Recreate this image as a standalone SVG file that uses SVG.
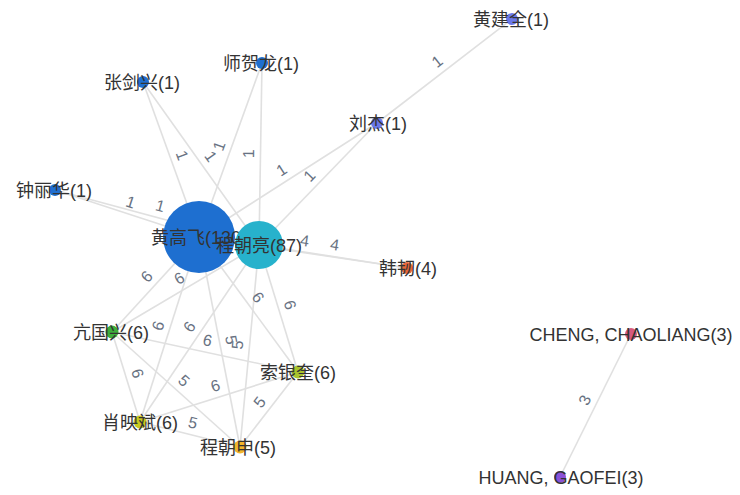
<svg xmlns="http://www.w3.org/2000/svg" width="740" height="495" viewBox="0 0 740 495">
<style>
.e{stroke:#e0e0e0;stroke-width:1.6;fill:none}
.el{font-family:"Liberation Sans","Noto Sans CJK SC",sans-serif;font-size:16px;fill:#687282;text-anchor:middle}
.nl{font-family:"Liberation Sans","Noto Sans CJK SC",sans-serif;font-size:18px;fill:#333;text-anchor:middle}
</style>
<rect width="740" height="495" fill="#fff"/>
<g id="connectors">
<line class="e" x1="199" y1="237" x2="55" y2="190"/>
<line class="e" x1="259" y1="245" x2="55" y2="190"/>
<line class="e" x1="199" y1="237" x2="143" y2="82"/>
<line class="e" x1="259" y1="245" x2="143" y2="82"/>
<line class="e" x1="199" y1="237" x2="262" y2="63"/>
<line class="e" x1="259" y1="245" x2="262" y2="63"/>
<line class="e" x1="199" y1="237" x2="377" y2="123"/>
<line class="e" x1="259" y1="245" x2="377" y2="123"/>
<line class="e" x1="377" y1="123" x2="512" y2="19"/>
<line class="e" x1="199" y1="237" x2="407" y2="268"/>
<line class="e" x1="259" y1="245" x2="407" y2="268"/>
<line class="e" x1="199" y1="237" x2="112" y2="332"/>
<line class="e" x1="259" y1="245" x2="112" y2="332"/>
<line class="e" x1="199" y1="237" x2="140" y2="422"/>
<line class="e" x1="259" y1="245" x2="140" y2="422"/>
<line class="e" x1="199" y1="237" x2="298" y2="372"/>
<line class="e" x1="259" y1="245" x2="298" y2="372"/>
<line class="e" x1="199" y1="237" x2="240" y2="447"/>
<line class="e" x1="259" y1="245" x2="240" y2="447"/>
<line class="e" x1="112" y1="332" x2="140" y2="422"/>
<line class="e" x1="112" y1="332" x2="298" y2="372"/>
<line class="e" x1="112" y1="332" x2="240" y2="447"/>
<line class="e" x1="140" y1="422" x2="298" y2="372"/>
<line class="e" x1="140" y1="422" x2="240" y2="447"/>
<line class="e" x1="298" y1="372" x2="240" y2="447"/>
<line class="e" x1="631" y1="334" x2="560" y2="477"/>
<g id="edge-labels">
<text class="el" transform="translate(127,213.5) rotate(18.1)" y="-6.5">1</text>
<text class="el" transform="translate(157,217.5) rotate(15.1)" y="-6.5">1</text>
<text class="el" transform="translate(171,159.5) rotate(70.1)" y="-6.5">1</text>
<text class="el" transform="translate(201,163.5) rotate(54.6)" y="-6.5">1</text>
<text class="el" transform="translate(230.5,150) rotate(-70.1)" y="-6.5">1</text>
<text class="el" transform="translate(260.5,154) rotate(-89.1)" y="-6.5">1</text>
<text class="el" transform="translate(288,180) rotate(-32.6)" y="-6.5">1</text>
<text class="el" transform="translate(318,184) rotate(-45.9)" y="-6.5">1</text>
<text class="el" transform="translate(444.5,71) rotate(-37.6)" y="-6.5">1</text>
<text class="el" transform="translate(303,252.5) rotate(8.5)" y="-6.5">4</text>
<text class="el" transform="translate(333,256.5) rotate(8.8)" y="-6.5">4</text>
<text class="el" transform="translate(155.5,284.5) rotate(-47.5)" y="-6.5">6</text>
<text class="el" transform="translate(185.5,288.5) rotate(-30.6)" y="-6.5">6</text>
<text class="el" transform="translate(169.5,329.5) rotate(-72.3)" y="-6.5">6</text>
<text class="el" transform="translate(199.5,333.5) rotate(-56.1)" y="-6.5">6</text>
<text class="el" transform="translate(248.5,304.5) rotate(53.7)" y="-6.5">6</text>
<text class="el" transform="translate(278.5,308.5) rotate(72.9)" y="-6.5">6</text>
<text class="el" transform="translate(219.5,342) rotate(79)" y="-6.5">5</text>
<text class="el" transform="translate(249.5,346) rotate(-84.6)" y="-6.5">5</text>
<text class="el" transform="translate(126,377) rotate(72.7)" y="-6.5">6</text>
<text class="el" transform="translate(205,352) rotate(12.1)" y="-6.5">6</text>
<text class="el" transform="translate(176,389.5) rotate(41.9)" y="-6.5">5</text>
<text class="el" transform="translate(219,397) rotate(-17.6)" y="-6.5">6</text>
<text class="el" transform="translate(190,434.5) rotate(14)" y="-6.5">5</text>
<text class="el" transform="translate(269,409.5) rotate(-52.3)" y="-6.5">5</text>
<text class="el" transform="translate(595.5,405.5) rotate(-63.6)" y="-6.5">3</text>
</g>
</g>
<g id="node-zhangjianxing"><circle cx="143" cy="82" r="6" fill="#1f6fd0"/><text class="nl" x="142" y="88.5">张剑兴(1)</text></g>
<g id="node-shihelong"><circle cx="262" cy="63" r="6" fill="#1f6fd0"/><text class="nl" x="261" y="69.5">师贺龙(1)</text></g>
<g id="node-zhonglihua"><circle cx="55" cy="190" r="6" fill="#1f6fd0"/><text class="nl" x="54" y="196.5">钟丽华(1)</text></g>
<g id="node-liujie"><circle cx="377" cy="123" r="6" fill="#6b78e8"/><text class="nl" x="378" y="129.5">刘杰(1)</text></g>
<g id="node-huangjianquan"><circle cx="512" cy="19" r="6" fill="#6b78e8"/><text class="nl" x="511" y="25.5">黄建全(1)</text></g>
<g id="node-hanren"><circle cx="407" cy="268" r="6" fill="#e8673a"/><text class="nl" x="408" y="274.5">韩韧(4)</text></g>
<g id="node-kangguoxing"><circle cx="112" cy="332" r="6.5" fill="#3cae3c"/><text class="nl" x="111" y="338.5">亢国兴(6)</text></g>
<g id="node-suoyinkui"><circle cx="298" cy="372" r="6.5" fill="#a9c42c"/><text class="nl" x="298" y="378.5">索银奎(6)</text></g>
<g id="node-xiaoyingbin"><circle cx="140" cy="422" r="6.5" fill="#c8c81e"/><text class="nl" x="140" y="428.5">肖映斌(6)</text></g>
<g id="node-chengchaoshen"><circle cx="240" cy="447" r="6.5" fill="#f2b62c"/><text class="nl" x="238" y="453.5">程朝申(5)</text></g>
<g id="node-cheng-chaoliang"><circle cx="631" cy="334" r="6" fill="#d65a7e"/><text class="nl" x="631" y="340.5">CHENG, CHAOLIANG(3)</text></g>
<g id="node-huang-gaofei"><circle cx="560" cy="477" r="6" fill="#8a52d8"/><text class="nl" x="561" y="483.5">HUANG, GAOFEI(3)</text></g>
<g id="node-huanggaofei"><circle cx="199" cy="237" r="36" fill="#1e6fd0"/><text class="nl" x="199" y="244">黄高飞(130)</text></g>
<g id="node-chengchaoliang"><circle cx="259" cy="245" r="24" fill="#27b2cc"/><text class="nl" x="259" y="251.5">程朝亮(87)</text></g>
</svg>
